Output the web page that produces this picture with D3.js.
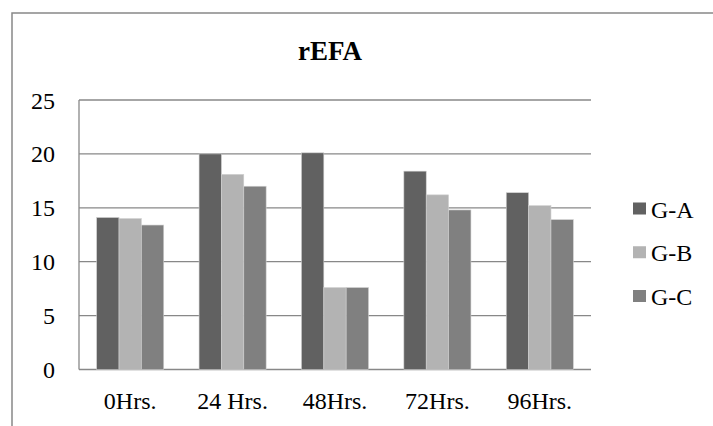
<!DOCTYPE html>
<html><head><meta charset="utf-8">
<script src="https://cdn.jsdelivr.net/npm/d3@7"></script>
<style>html,body{margin:0;padding:0;background:#fff;}svg{display:block;}</style>
</head><body>
<script>
const categories = ["0Hrs.", "24 Hrs.", "48Hrs.", "72Hrs.", "96Hrs."];
const seriesNames = ["G-A", "G-B", "G-C"];
const gA = [14.1, 20.0, 20.1, 18.4, 16.4];
const gB = [14.0, 18.1, 7.6, 16.2, 15.2];
const gC = [13.4, 17.0, 7.6, 14.8, 13.9];
const yTicks = [0, 5, 10, 15, 20, 25];
const colors = ["#616161", "#b3b3b3", "#808080"];
const title = "rEFA";

const W = 713, H = 426;
const FONT = "Liberation Serif";
const svg = d3.select("body").append("svg").attr("width", W).attr("height", H);

// outer chart border (extends beyond the viewport on right/bottom)
svg.append("rect").attr("x", 12).attr("y", 13).attr("width", 800).attr("height", 500)
  .attr("fill", "none").attr("stroke", "#888").attr("stroke-width", 1.5);

const plot = {left: 79, right: 591, top: 100, bottom: 369.5};
const x0 = d3.scaleBand().domain(categories).range([plot.left, plot.right]).paddingInner(0.345).paddingOuter(0.1725);
const x1 = d3.scaleBand().domain(seriesNames).range([0, x0.bandwidth()]);
const y = d3.scaleLinear().domain([0, 25]).range([plot.bottom, plot.top]);

// gridlines
svg.append("g").selectAll("line").data(yTicks).join("line")
  .attr("x1", plot.left).attr("x2", plot.right)
  .attr("y1", d => y(d)).attr("y2", d => y(d))
  .attr("stroke", "#888").attr("stroke-width", 1.3);

// y axis line
svg.append("line").attr("x1", plot.left).attr("x2", plot.left)
  .attr("y1", plot.top).attr("y2", plot.bottom)
  .attr("stroke", "#888").attr("stroke-width", 1.3);

// y labels
svg.append("g").selectAll("text").data(yTicks).join("text")
  .attr("x", 55).attr("y", d => y(d) + 8.5)
  .attr("text-anchor", "end").style("font-family", FONT).style("font-size", "24px")
  .attr("fill", "#000").text(d => d);

// bars
const data = categories.map((c, i) => ({cat: c, vals: [gA[i], gB[i], gC[i]]}));
const groups = svg.append("g").selectAll("g").data(data).join("g")
  .attr("transform", d => `translate(${x0(d.cat)},0)`);
groups.selectAll("rect").data(d => d.vals.map((v, j) => ({name: seriesNames[j], v, j})))
  .join("rect")
  .attr("x", d => x1(d.name)).attr("width", x1.bandwidth())
  .attr("y", d => y(d.v)).attr("height", d => y(0) - y(d.v))
  .attr("fill", d => colors[d.j]).attr("stroke", "#d0d0d0").attr("stroke-width", 0.6);

// x labels
svg.append("g").selectAll("text").data(categories).join("text")
  .attr("x", d => x0(d) + x0.bandwidth() / 2).attr("y", 409)
  .attr("text-anchor", "middle").style("font-family", FONT).style("font-size", "24px")
  .attr("fill", "#000").text(d => d);

// title
svg.append("text").attr("x", 330).attr("y", 60).attr("text-anchor", "middle")
  .style("font-family", FONT).style("font-size", "27px").style("font-weight", "bold")
  .attr("fill", "#000").text(title);

// legend
const lg = svg.append("g").selectAll("g").data(seriesNames).join("g")
  .attr("transform", (d, i) => `translate(633,${209.5 + i * 43.75})`);
lg.append("rect").attr("x", 0).attr("y", -7).attr("width", 13).attr("height", 12)
  .attr("fill", (d, i) => colors[i]);
lg.append("text").attr("x", 18).attr("y", 8).style("font-family", FONT).style("font-size", "24px")
  .attr("fill", "#000").text(d => d);
</script>
</body></html>
